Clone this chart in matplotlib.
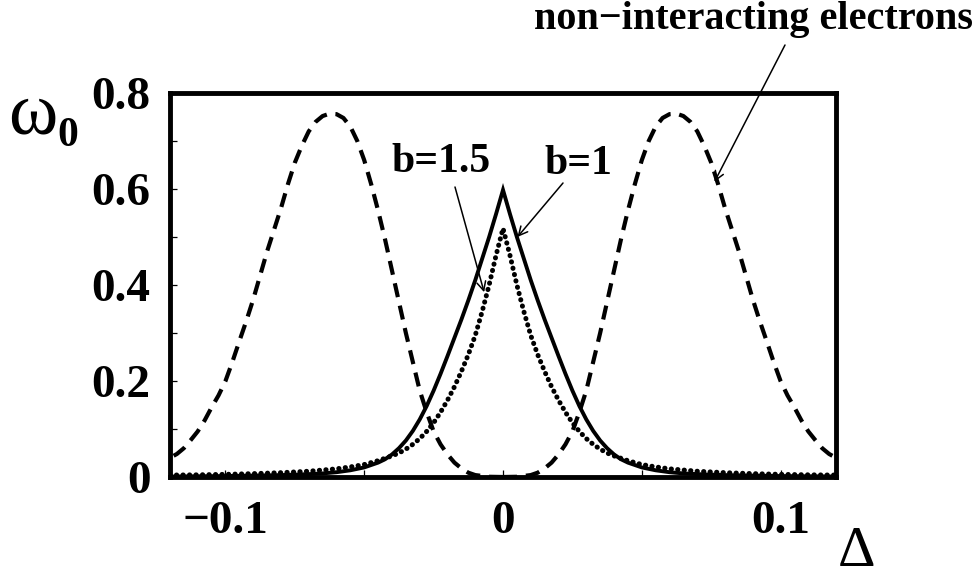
import matplotlib
matplotlib.use("Agg")
import matplotlib.pyplot as plt
import numpy as np

# ---- data ----
# non-interacting electrons (dashed), right peak; left peak is its mirror image
ni_x = [0.0, 0.005, 0.010, 0.0125, 0.015, 0.0175, 0.020, 0.0225, 0.025, 0.0275,
        0.030, 0.0325, 0.035, 0.0375, 0.040, 0.0425, 0.045, 0.0475, 0.050, 0.0525,
        0.055, 0.0575, 0.060, 0.0625, 0.065, 0.0675, 0.070, 0.0725, 0.075, 0.0775,
        0.080, 0.0825, 0.085, 0.0875, 0.090, 0.0925, 0.095, 0.0975, 0.100, 0.1025,
        0.105, 0.1075, 0.110, 0.1125, 0.115, 0.1175, 0.120]
ni_y = [0.0, 0.0005, 0.004, 0.009, 0.018, 0.03, 0.047, 0.068, 0.095, 0.135,
        0.18, 0.24, 0.30, 0.365, 0.43, 0.495, 0.555, 0.61, 0.66, 0.70,
        0.73, 0.748, 0.756, 0.757, 0.752, 0.74, 0.72, 0.69, 0.655, 0.61,
        0.56, 0.515, 0.47, 0.42, 0.37, 0.325, 0.283, 0.24, 0.20, 0.17,
        0.145, 0.118, 0.095, 0.077, 0.06, 0.048, 0.040]

# b = 1 (solid), right half; left half is its mirror image
b1_x = [0.0, 0.0025, 0.005, 0.0075, 0.010, 0.0125, 0.015, 0.0175, 0.020, 0.0225,
        0.025, 0.0275, 0.030, 0.0325, 0.035, 0.0375, 0.040, 0.0425, 0.045, 0.050,
        0.055, 0.060, 0.065, 0.070, 0.080, 0.090, 0.100, 0.110, 0.120]
b1_y = [0.598, 0.548, 0.50, 0.455, 0.41, 0.368, 0.328, 0.29, 0.252, 0.215,
        0.18, 0.148, 0.12, 0.096, 0.076, 0.06, 0.047, 0.037, 0.030, 0.020,
        0.014, 0.010, 0.0075, 0.006, 0.004, 0.003, 0.002, 0.0015, 0.001]

# b = 1.5 (dotted), right half
b15_x = [0.0, 0.0025, 0.005, 0.0075, 0.010, 0.0125, 0.015, 0.0175, 0.020, 0.0225,
         0.025, 0.0275, 0.030, 0.0325, 0.035, 0.0375, 0.040, 0.045, 0.050, 0.055,
         0.060, 0.070, 0.080, 0.090, 0.100, 0.110, 0.120]
b15_y = [0.518, 0.462, 0.40, 0.345, 0.295, 0.255, 0.22, 0.188, 0.16, 0.135,
         0.113, 0.095, 0.08, 0.068, 0.058, 0.05, 0.044, 0.034, 0.026, 0.021,
         0.017, 0.012, 0.009, 0.007, 0.0055, 0.0045, 0.004]

x_ticks = [-0.1, 0.0, 0.1]
x_tick_labels = ["\u22120.1", "0", "0.1"]
y_ticks = [0.0, 0.2, 0.4, 0.6, 0.8]
y_tick_labels = ["0", "0.2", "0.4", "0.6", "0.8"]


def mirror(xs, ys):
    xs = np.asarray(xs); ys = np.asarray(ys)
    return np.concatenate([-xs[::-1], xs[1:]]), np.concatenate([ys[::-1], ys[1:]])


plt.rcParams['font.family'] = ['Liberation Serif', 'DejaVu Serif']

fig = plt.figure(figsize=(9.79, 5.77), dpi=100)
ax = fig.add_axes([0.1736, 0.1733, 0.854 - 0.1736, 0.8388 - 0.1733])

# dashed: two peaks
ax.plot(ni_x, ni_y, color='black', lw=3.0, dashes=(3.4, 2.1))
ax.plot([-v for v in ni_x], ni_y, color='black', lw=3.0, dashes=(3.4, 2.1))

mx, my = mirror(b1_x, b1_y)
ax.plot(mx, my, color='black', lw=2.8, solid_joinstyle='miter')
mx, my = mirror(b15_x, b15_y)
dotted, = ax.plot(mx, my, color='black', lw=3.6, linestyle=(0, (0.05, 1.25)))
dotted.set_dash_capstyle('round')

ax.set_xlim(-0.12, 0.12)
ax.set_ylim(0, 0.8)
ax.set_xticks(x_ticks)
ax.set_xticklabels(x_tick_labels)
ax.set_yticks(y_ticks)
ax.set_yticklabels(y_tick_labels)
ax.set_xticks([-0.05, 0.05], minor=True)
ax.set_yticks([0.1, 0.3, 0.5, 0.7], minor=True)
ax.tick_params(which='both', direction='in', top=False, right=False, length=5, width=0.9)
ax.tick_params(axis='x', which='major', pad=17, labelsize=34)
ax.tick_params(axis='y', which='major', pad=14, labelsize=34)
for lab in ax.get_xticklabels() + ax.get_yticklabels():
    lab.set_fontweight('bold')
for sp in ax.spines.values():
    sp.set_linewidth(3.5)

# axis labels
fig.text(8 / 979, 1 - 116 / 577, "\u03c9", fontsize=54, ha='left', va='center')
fig.text(57 / 979, 1 - 136 / 577, "0", fontsize=30, fontweight='bold', ha='left', va='center')
fig.text(857 / 979, 1 - 566 / 577, "\u0394", fontsize=42, ha='center', va='baseline')

# annotations
fig.text(754 / 979, 1 - 20 / 577, "non\u2212interacting electrons", fontsize=29,
         fontweight='bold', ha='center', va='center')
fig.text(441 / 979, 1 - 162 / 577, "b=1.5", fontsize=30, fontweight='bold', ha='center', va='center')
fig.text(578 / 979, 1 - 164 / 577, "b=1", fontsize=30, fontweight='bold', ha='center', va='center')

arrow = dict(arrowstyle='->', lw=1.1, color='black', mutation_scale=16, shrinkA=0, shrinkB=0)
ax.annotate("", xy=(0.0762, 0.615), xycoords='data',
            xytext=(785 / 979, 1 - 45 / 577), textcoords='figure fraction', arrowprops=arrow)
ax.annotate("", xy=(-0.0068, 0.385), xycoords='data',
            xytext=(455 / 979, 1 - 187 / 577), textcoords='figure fraction', arrowprops=arrow)
ax.annotate("", xy=(0.0052, 0.50), xycoords='data',
            xytext=(563 / 979, 1 - 183 / 577), textcoords='figure fraction', arrowprops=arrow)

fig.savefig("out.png", dpi=100)
